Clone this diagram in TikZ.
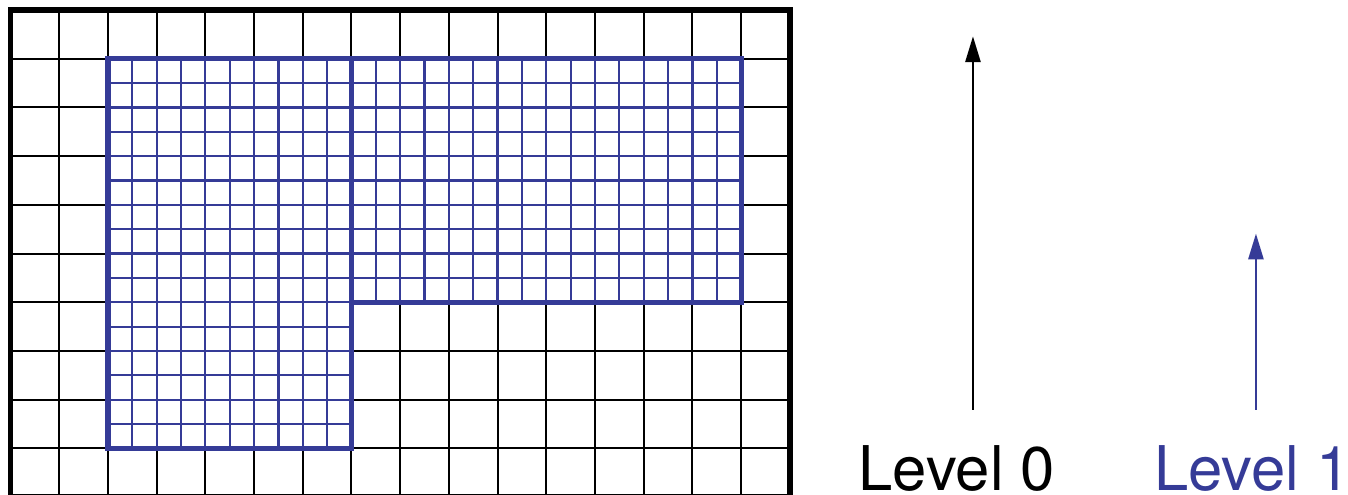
\documentclass[tikz,border=0pt]{standalone}
\usepackage{fontspec}
\setmainfont{TeX Gyre Heros}
\usetikzlibrary{arrows.meta}
\definecolor{levelblue}{RGB}{53,59,151}
\begin{document}
\begin{tikzpicture}[
        coarse/.style={draw=black, line width=1.2pt},
        border/.style={draw=black, line width=3.2pt},
        fine/.style={draw=levelblue, line width=1.3pt},
        patch/.style={draw=levelblue, line width=3pt},
        levelarrow/.style={line width=1.4pt, -{Triangle[length=0.53cm, width=0.31cm]}},
        label/.style={inner sep=0pt, anchor=base, font=\fontsize{36}{40}\selectfont},
    ]
    \useasboundingbox (-0.216,0.043) rectangle (27.46,10.206);
    \draw[coarse] (0,0) grid (16,10);
    \draw[fine, step=0.5] (2,1) grid (7,9);
    \draw[fine, step=0.5] (7,4) grid (15,9);
    \draw[patch] (2,1) rectangle (7,9);
    \draw[patch] (7,4) rectangle (15,9);
    \draw[border] (0,0) rectangle (16,10);
    \coordinate (l0bot) at (19.76,1.79);
    \coordinate (l0top) at (19.76,9.46);
    \coordinate (l1bot) at (25.57,1.79);
    \coordinate (l1top) at (25.57,5.41);
    \draw[levelarrow, black] (l0bot) -- (l0top);
    \draw[levelarrow, levelblue] (l1bot) -- (l1top);
    \node[label, text=black] (lvl0) at (19.43,0.14) {Level 0};
    \node[label, text=levelblue] (lvl1) at (25.5,0.14) {Level 1};
\end{tikzpicture}
\end{document}
